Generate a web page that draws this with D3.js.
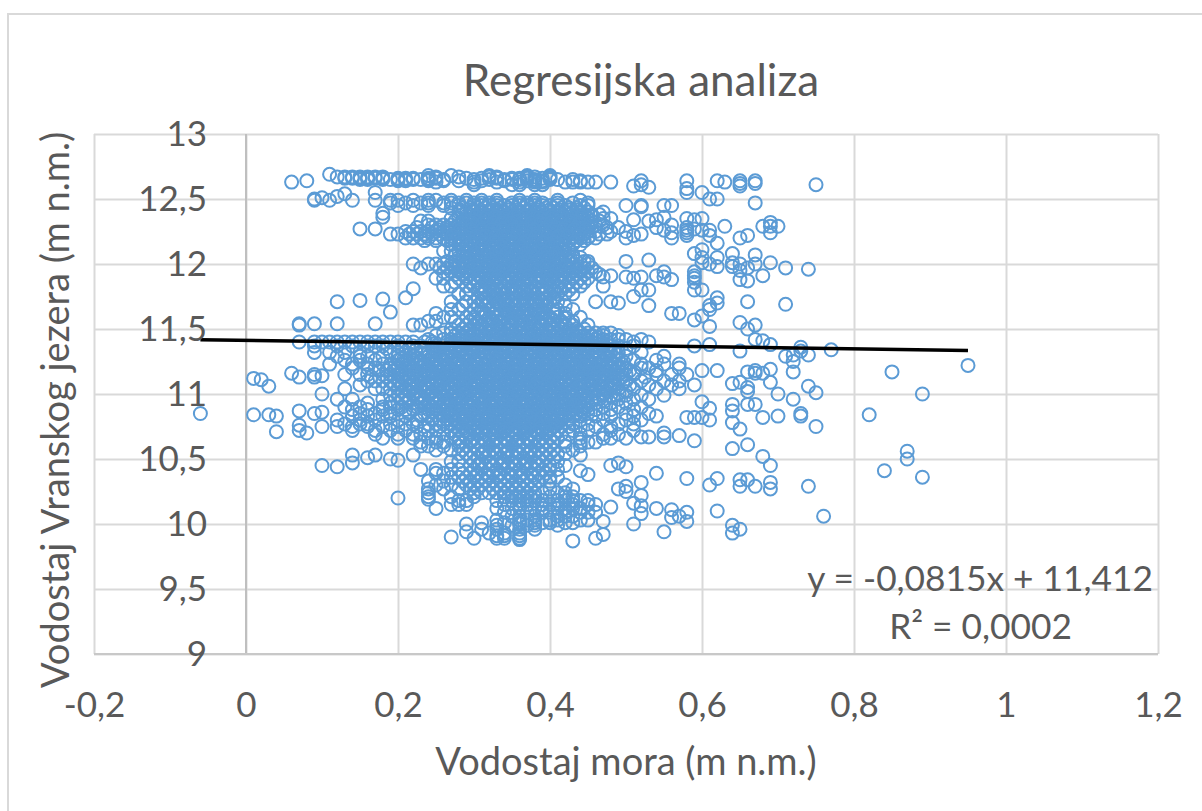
<!DOCTYPE html>
<html>
<head>
<meta charset="utf-8">
<script src="https://cdn.jsdelivr.net/npm/d3@7"></script>
<style>
html,body{margin:0;background:#fff;}
text{font-family:Lato,"Open Sans",sans-serif;fill:#595959;}
</style>
</head>
<body>
<svg id="chart" width="1202" height="811"></svg>
<script>
// tick labels
const xTicks = [-0.2, 0, 0.2, 0.4, 0.6, 0.8, 1, 1.2];
const yTicks = [9, 9.5, 10, 10.5, 11, 11.5, 12, 12.5, 13];

// trendline ends (x, y)
const trendX = [-0.06, 0.95];
const trendY = [11.417, 11.335];

// all rows below: first number is the lake level in cm, the rest are sea levels in cm
const looseLeft = [
 [1085,-6],[1112,1],[1111,2],[1106,3],[1084,1,3],[1083,4],[1071,4],[1116,6],[1113,7,9],[1115,9],[1114,10],[1100,10],
 [1087,7],[1076,7],[1072,7],[1070,8],[1085,9],[1086,10],[1075,10],[1045,10],[1044,12],[1053,14,17,22],[1047,14],[1051,16],
 [1050,19],[1049,20],[1020,20],[990,27],[1000,29],[994,29],[989,30],[1012,25],[1024,24],[1021,24],[1019,24],
 [1171,12],[1172,15],[1173,18],[1163,19],[1174,21],[1181,22],[1154,7,9,12,17],[1153,7,22,23],[1200,22,24],[1197,23],
 [1227,15,17],[1239,18],[1236,18],[1249,17],[1255,17],[1250,9],[1251,10],[1252,12],[1254,13],[1249,9,11,14],[1263,6],[1264,8],[1269,11]
];
const looseUpperRight = [
 [1263,48],[1260,51],[1264,52],[1261,52],[1259,53],[1264,58],[1258,58],[1255,58,60],[1264,62],[1263,63],[1264,65],[1262,65],[1260,65],
 [1264,67],[1262,67],[1261,75],[1250,61,62],[1247,67],[1245,50,52,55,56],[1244,52],
 [1234,51],[1233,53],[1234,54],[1236,55],[1230,56],[1235,58],[1234,59],[1235,60],[1229,63,68,69,70],[1232,69],[1224,69],[1220,65],[1222,66],
 [1220,50],[1222,51],[1223,52],[1228,54,58],[1226,55,58,60,61],[1224,56,58],[1220,56],[1222,58,61],[1227,59],[1216,62],
 [1208,59],[1211,60],[1205,60,62],[1201,60,64],[1200,61,65,67],[1198,62,64],[1208,64],[1195,65],[1188,65],[1197,66,71],[1187,66],
 [1207,67],[1191,68,48,54,59],[1201,69],[1196,74],[1202,50],[1203,53],[1190,47,50,52,55],[1189,51,59],[1194,55,59],[1188,56],
 [1186,59],[1180,59,60,53,52],[1175,51],[1171,48,66],[1170,49,62],[1168,53,61],[1162,56,57],[1157,59],[1160,60],[1165,61],[1152,61],[1174,62],
 [1155,65],[1150,66],[1169,71],[1153,67],[1142,67],[1141,68],[1138,69,61],[1137,59],[1133,65,73],[1136,73],[1130,72],[1129,71],[1125,72],[1134,77]
];
const looseLowerRight = [
 [1122,95],[1117,85,72,66],[1100,89,70],[1084,82],[1056,87],[1050,87],[1041,84],[1036,89],[1006,76],[1130,74],[1106,74],[1101,75],
 [1096,72],[1083,70,73],[1085,73],[1082,68,60,59,58],[1075,75],[1092,67,66,64],[1119,69],[1109,69,65],[1116,68,67],[1118,67,60,62],
 [1108,64],[1105,66],[1102,66],[1087,64],[1078,64],[1073,65],[1080,61],[1089,61],[1094,60],[1064,59],[1068,57],[1070,55],[1067,55,53,52],
 [1061,66],[1058,64],[1052,68],[1045,69,48],[1053,44],[1041,44],[1038,45],[1047,49],[1044,50],[1039,54],[1035,58,62],[1030,61],
 [1029,65,67,74,50],[1034,65,66],[1032,69,52],[1027,69,49],[1025,50],[1022,52],[1016,51],[1014,52],[1008,52],[1012,54],[1011,56],[1005,56],
 [1006,57],[1009,58],[1002,58,47],[1010,62],[999,64],[993,64],[996,65],[994,55],[1000,51,36],[1013,48],[989,46],[992,47],[987,43],[988,36]
];

const topBand = [
 [1268,24,27,32,37,40],
 [1267,12,13,14,15,16,17,18,25,28,32,33,37,38,40],
 [1266,13,14,15,16,17,18,20,21,22,24,25,29,31,33,35,36,37,39,40],
 [1265,15,16,18,19,20,21,22,23,24,26,30,32,34,35,36,38,40,41,43],
 [1264,20,21,24,26,28,31,34,37,38,39,44],
 [1263,25,30,33,36,38,39,42,43,44,45,46],
 [1261,30,35,36,38,39],
 [1249,19,20,22,24,25,27,29,31,33,36,38,41,44]
];
const upperBlob = [
 [1247,19,21,23,24,26,27,28,29,30,31,32,33,35,36,37,38,39,41,43,45],
 [1245,20,22,24,26,28,30,31,32,33,34,35,36,37,38,39,40,41,42,44,45],
 [1243,27,28.5,29.5,30.5,31.5,32.5,33.5,34.5,35.5,36.5,37.5,38.5,39.5,40.5,41.5,42.5,43.5,44.5],
 [1240,28,29,30,31,32,33,34,35,36,37,38,39,40,41,42,43,44,45,47],
 [1238,28.5,29.5,30.5,31.5,32.5,33.5,34.5,35.5,36.5,37.5,38.5,39.5,40.5,41.5,42.5,43.5,44.5,45.5,46.5],
 [1235,27,28,29,30,31,32,33,34,35,36,37,38,39,40,41,42,43,44,45,47,48],
 [1233,23,24,27.5,28.5,29.5,30.5,31.5,32.5,33.5,34.5,35.5,36.5,37.5,38.5,39.5,40.5,41.5,42.5,43.5,44.5,45.5,46.5],
 [1230,24,25,26,27,28,29,30,31,32,33,34,35,36,37,38,39,40,41,42,43,44,45,46,47],
 [1228,22.5,24.5,25.5,26.5,27.5,28.5,29.5,30.5,31.5,32.5,33.5,34.5,35.5,36.5,37.5,38.5,39.5,40.5,41.5,42.5,43.5,44.5,45.5,47.5,49],
 [1225,21,22,23,24,25,26,27,28,29,30,31,32,33,34,35,36,37,38,39,40,41,42,43,44,45,46,48,50],
 [1223,19,20,21.5,22.5,23.5,24.5,25.5,26.5,27.5,28.5,29.5,30.5,31.5,32.5,33.5,34.5,35.5,36.5,37.5,38.5,39.5,40.5,41.5,42.5,43.5,44.5,46.5,47.5],
 [1220,21,22,23,24,25,26,27,28,29,30,31,32,33,34,35,36,37,38,39,40,41,42,43,44,45,46],
 [1218,23.5,25,26.5,27.5,28.5,29.5,30.5,31.5,32.5,33.5,34.5,35.5,36.5,37.5,38.5,39.5,40.5,41.5,42.5,43.5,44.5],
 [1215,27,28,29,30,31,32,33,34,35,36,37,38,39,40,41,42,43,44],
 [1212,28.5,30.5,31.5,32.5,33.5,34.5,35.5,36.5,37.5,38.5,39.5,40.5,41.5,42.5],
 [1210,26,27,28,29,30,31,32,33,34,35,36,37,38,39,40,41,42],
 [1207,27.5,28.5,30.5,31.5,32.5,33.5,34.5,35.5,36.5,37.5,38.5,39.5,40.5,41.5,43],
 [1205,28,29,30,31,32,33,34,35,36,37,38,39,40,41,42,43,44],
 [1202,26.5,27.5,28.5,29.5,30.5,31.5,32.5,33.5,34.5,35.5,36.5,37.5,38.5,39.5,40.5,41.5,42.5,43.5,44.5,45],
 [1200,25,26,27,28,29,30,31,32,33,34,35,36,37,38,39,40,41,42,43,44,45],
 [1197,25.5,26.5,27.5,28.5,29.5,30.5,31.5,32.5,33.5,34.5,35.5,36.5,37.5,38.5,39.5,40.5,41.5,42.5,43.5,44.5,45.5],
 [1194,26,27,28,29,30,31,32,33,34,35,36,37,38,39,40,41,42,43,44,45,46],
 [1192,27.5,28.5,29.5,30.5,31.5,32.5,33.5,34.5,35.5,36.5,37.5,38.5,39.5,40.5,41.5,42.5,43.5,44.5,46.5],
 [1189,25,26,28,29,30,31,32,33,34,35,36,37,38,39,40,41,42,43,44,45],
 [1186,27.5,29.5,30.5,31.5,32.5,33.5,34.5,35.5,36.5,37.5,38.5,39.5,40.5,41.5,42.5,43.5,44.5],
 [1183,26,27,29,30,31,32,33,34,35,36,37,38,40,41,42,43,44,47],
 [1180,29.5,30.5,31.5,32.5,33.5,34.5,35.5,36.5,37.5,38.5,39.5,40.5,41.5,42.5],
 [1177,28,29,31,32,33,34,35,36,37,38,39,40,41,42,43],
 [1174,30.5,31.5,32.5,33.5,34.5,35.5,36.5,37.5,38.5,39.5,40.5],
 [1171,27,29,30,31,32,33,34,35,36,37,38,39,40,41,46],
 [1168,28.5,30.5,32.5,33.5,34.5,35.5,36.5,37.5,38.5,39.5,42],
 [1165,27,28,30,31,33,34,35,36,37,38,39,41,43],
 [1162,25,29.5,30.5,32.5,33.5,34.5,35.5,36.5,37.5,38.5,40.5,42],
 [1159,26,27,29,30,31,32,33,34,35,36,37,38,39,40,41,42,44],
 [1156,24,25,27.5,29.5,31.5,32.5,33.5,34.5,35.5,36.5,37.5,38.5,39.5,41.5,43],
 [1153,28,29,30,31,32,33,34,35,36,37,38,39,40,41,42,43,45]
];
const upperFill = [
 [1241.5,28.2,29.7,30.9,32.4,33.1,34.6,35.8,37.3,38.4,39.9,41.2,42.6,43.7],
 [1236.5,29.3,30.2,31.7,32.8,34.2,35.3,36.7,37.8,39.2,40.3,41.6,42.9,44.2,45.6],
 [1231.5,28.4,29.8,31.2,32.6,33.7,34.9,36.3,37.6,38.8,40.1,41.4,42.7,43.9,45.3],
 [1226.5,25.2,26.7,28.3,29.6,31.1,32.3,33.8,35.2,36.4,37.9,39.3,40.6,41.8,43.2,44.7],
 [1221.5,23.7,27.2,28.8,30.3,31.6,32.9,34.1,35.7,36.9,38.2,39.7,41.1,42.3,43.8,45.2],
 [1216.5,28.3,29.7,31.2,32.7,33.9,35.1,36.6,37.7,39.1,40.4,41.7,43.2],
 [1213.5,29.2,31.1,32.3,33.6,34.8,36.2,37.4,38.7,40.2,41.3],
 [1208.5,28.7,30.2,31.8,32.9,34.3,35.6,36.8,38.1,39.4,40.7],
 [1203.5,29.3,30.8,32.2,33.4,34.7,36.1,37.3,38.6,39.9,41.2,42.7],
 [1198.5,27.2,28.6,30.1,31.7,32.8,34.2,35.4,36.7,37.9,39.3,40.7,42.1,43.6],
 [1195.5,28.3,29.8,31.3,32.6,33.9,35.3,36.6,38.2,39.6,40.9,42.4,43.8],
 [1190.5,29.1,30.7,32.1,33.2,34.8,36.1,37.2,38.7,40.1,41.6,43.1],
 [1187.5,30.2,31.6,32.9,34.3,35.7,36.9,38.3,39.7,41.2],
 [1181.5,30.8,32.2,33.6,34.9,36.2,37.6,38.9,40.2,41.3],
 [1178.5,31.3,32.7,34.1,35.3,36.7,37.8,39.2,40.6],
 [1172.5,31.2,32.6,33.8,35.1,36.4,37.7,39.3,40.4],
 [1169.5,31.7,33.2,34.4,35.7,36.9,38.2,39.6],
 [1163.5,31.3,32.8,34.2,35.3,36.6,37.9,39.2,40.7],
 [1160.5,31.6,33.1,34.6,35.9,37.2,38.4,39.7],
 [1157.5,30.2,32.3,33.7,35.1,36.3,37.7,38.9,40.3],
 [1154.5,30.7,32.1,33.4,34.8,36.2,37.4,38.8,40.1,41.6]
];
const lowerBlob = [
 [1150,27,28.5,29.5,30.5,31.5,32.5,33.5,34.5,35.5,36.5,37.5,38.5,39.5,40.5,41.5,42.5,43.5,44.5],
 [1147,26,27,28,29,30,31,32,33,34,35,36,37,38,39,40,41,42,43,44,45,46,47,48],
 [1145,25,27.5,28.5,29.5,30.5,31.5,32.5,33.5,34.5,35.5,36.5,37.5,38.5,39.5,40.5,41.5,42.5,43.5,44.5,45.5,47,49],
 [1142,24,26,27,28,29,30,31,32,33,34,35,36,37,38,39,40,41,42,43,44,45,46,47,48,49,50,52],
 [1140,7,9,10,11,12,13,14,15,16,17,18,19,20,21,22,23.5,24.5,26.5,27.5,28.5,29.5,30.5,31.5,32.5,33.5,34.5,35.5,36.5,37.5,38.5,39.5,40.5,41.5,42.5,43.5,44.5,45.5,46.5,47.5,51,53],
 [1137,9,12,14,16,17,18,20,22,23,25,26,27,28,29,30,31,33,34,35,36,37,38,39,40,41,42,43,44,45,46,47,48,49,51],
 [1135,18.5,20.5,21.5,23.5,24.5,26.5,27.5,28.5,29.5,30.5,31.5,32.5,33.5,34.5,35.5,36.5,37.5,38.5,39.5,40.5,41.5,42.5,43.5,44.5,45.5,46.5,47.5,48.5,50],
 [1132,9,11,13,15,19,20,21,23,24,25,26,27,28,29,30,31,32,33,34,35,36,37,38,39,40,41,42,43,44,45,46,48,49,52],
 [1129,12,15,16,18,20,22,24,25.5,26.5,27.5,28.5,29.5,30.5,31.5,32.5,33.5,34.5,35.5,36.5,37.5,38.5,39.5,40.5,41.5,42.5,43.5,44.5,45.5,46.5,47.5,50,55],
 [1126,13,15,17,20,21,22,23,24,25,26,27,28,29,30,31,32,33,34,35,36,37,38,39,40,41,42,43,44,45,46,47,48,49,51,54],
 [1123,11,14,16,18,19,20.5,21.5,22.5,23.5,24.5,25.5,26.5,27.5,28.5,29.5,30.5,31.5,32.5,33.5,34.5,35.5,36.5,37.5,38.5,39.5,40.5,41.5,42.5,43.5,44.5,45.5,46.5,47.5,48.5,49.5,52,55,57],
 [1120,14,16,17,19,20,21,22,23,24,25,26,27,28,29,30,31,32,33,34,35,36,37,38,39,40,41,42,43,44,45,46,47,48,49,50,52,53,57],
 [1118,17.5,18.5,19.5,20.5,21.5,22.5,23.5,24.5,25.5,26.5,27.5,28.5,29.5,30.5,31.5,32.5,33.5,34.5,35.5,36.5,37.5,38.5,39.5,40.5,41.5,42.5,43.5,44.5,45.5,46.5,47.5,48.5,50.5,54],
 [1115,13,15,16,18,19,20,21,22,23,24,25,26,27,28,29,30,31,32,33,34,35,36,37,38,39,40,41,42,43,44,45,46,47,48,49,50,51,54,56,58],
 [1113,16.5,18.5,20.5,21.5,22.5,23.5,24.5,25.5,26.5,27.5,28.5,29.5,30.5,31.5,32.5,33.5,34.5,35.5,36.5,37.5,38.5,39.5,40.5,41.5,42.5,43.5,44.5,45.5,46.5,47.5,48.5,49.5,52.5],
 [1110,16,17,18,19,20,21,22,23,25,26,27,28,29,30,31,32,33,34,35,36,37,38,39,40,41,42,43,44,45,46,47,48,50,52,55,57],
 [1107,15,19.5,20.5,21.5,22.5,23.5,24.5,25.5,26.5,27.5,28.5,29.5,30.5,31.5,32.5,33.5,34.5,35.5,36.5,37.5,38.5,39.5,40.5,41.5,42.5,43.5,44.5,45.5,46.5,47.5,48.5,50.5,53,56,59],
 [1104,13,17,18,19,20,21,22,24,25,26,27,28,29,30,31,32,33,34,35,36,37,38,39,40,41,42,43,44,45,46,48,49,51,54,57],
 [1102,20.5,21.5,22.5,23.5,24.5,25.5,26.5,27.5,28.5,29.5,30.5,31.5,32.5,33.5,34.5,35.5,36.5,37.5,38.5,39.5,40.5,41.5,42.5,43.5,44.5,45.5,47.5,50],
 [1099,19,20,21,22,23,24,25,26,27,28,29,30,31,32,33,34,35,36,37,38,39,40,41,42,43,44,45,47,48,50,52,55],
 [1096,12,14,18,20.5,21.5,22.5,23.5,24.5,25.5,26.5,27.5,28.5,29.5,30.5,31.5,32.5,33.5,34.5,35.5,36.5,37.5,38.5,39.5,40.5,41.5,42.5,43.5,44.5,46.5,49,51,53],
 [1093,16,19,20,21,22,23,24,25,26,27,28,29,30,31,32,33,34,35,36,37,38,39,40,41,42,43,44,45,46,48,50],
 [1090,13,15,18,19,20.5,22.5,23.5,24.5,25.5,26.5,27.5,28.5,29.5,30.5,31.5,32.5,33.5,34.5,35.5,36.5,37.5,38.5,39.5,40.5,41.5,42.5,43.5,44.5,47,49,52],
 [1088,14,16,18,20,21,22,24,25,26,27,28,29,30,31,32,33,34,35,36,37,38,39,40,41,42,43,44,45,46,48,51],
 [1085,15,17,19,21.5,23.5,25.5,26.5,27.5,28.5,29.5,30.5,31.5,32.5,33.5,34.5,35.5,36.5,37.5,38.5,39.5,40.5,41.5,42.5,43.5,45,47,50,53],
 [1083,14,16,18,19,21,23,24,26,27,28,29,30,31,32,33,34,35,36,37,38,39,40,41,42,43,44,46,48,51,54],
 [1080,12,15,17,20,22.5,24.5,25.5,26.5,27.5,28.5,29.5,30.5,31.5,32.5,33.5,34.5,35.5,36.5,37.5,38.5,39.5,40.5,41.5,42.5,44,47,50,52],
 [1077,13,15,16,19,21,22,24,25,26,27,28,29,30,31,32,33,34,35,36,37,38,39,40,41,43,45,49,51],
 [1075,12,14,16,18,20,22.5,23.5,25.5,26.5,27.5,28.5,29.5,30.5,31.5,32.5,33.5,34.5,35.5,36.5,37.5,38.5,39.5,40.5,41.5,42.5,44,46,48],
 [1072,14,17,19,21,24,25,27,28,29,30,31,32,33,34,35,36,37,38,39,40,41,43,45,48,51],
 [1069,17,20,22,23,26,27.5,28.5,29.5,30.5,31.5,32.5,33.5,34.5,35.5,36.5,37.5,38.5,39.5,40.5,41.5,42.5,44,47,49],
 [1066,18,20,22,24,25,27,28,29,30,31,32,33,34,35,36,37,38,39,40,41,44,47,48,50],
 [1063,23,25,26,28,29.5,30.5,31.5,32.5,33.5,34.5,35.5,36.5,37.5,38.5,39.5,40.5,42,44,45,46]
];
const lowerFill = [
 [1148.5,29.2,30.7,32.1,33.3,34.6,35.9,37.2,38.4,39.8,41.1,42.4,43.7],
 [1143.5,28.3,29.8,31.2,32.7,33.9,35.2,36.6,37.8,39.1,40.3,41.7,43.1,44.6,46.2],
 [1138.5,24.7,27.3,28.9,30.2,31.6,32.8,34.1,35.7,36.9,38.3,39.6,40.8,42.2,43.6,45.2,46.8],
 [1133.5,22.3,25.2,26.8,28.2,29.7,31.1,32.6,33.8,35.2,36.4,37.7,39.1,40.6,41.9,43.3,44.7,46.1,47.6],
 [1130.5,21.6,23.2,24.8,26.3,27.9,29.2,30.7,32.2,33.4,34.7,36.1,37.3,38.6,39.9,41.3,42.8,44.2,45.6,47.2,48.8],
 [1127.5,20.8,22.7,24.3,25.9,27.2,28.8,30.1,31.6,32.9,34.2,35.7,36.8,38.2,39.4,40.7,42.1,43.6,44.9,46.4,47.9],
 [1124.5,21.2,23.1,24.7,26.2,27.7,29.1,30.4,31.8,33.2,34.4,35.8,37.1,38.4,39.8,41.2,42.7,44.1,45.3,46.8,48.2,49.7],
 [1121.5,19.6,21.7,23.4,25.1,26.7,28.3,29.6,31.2,32.6,33.7,35.2,36.6,37.9,39.2,40.6,41.8,43.3,44.6,46.1,47.4,49.1],
 [1116.5,20.3,22.2,24.1,25.6,27.1,28.6,30.2,31.3,32.8,34.1,35.4,36.9,38.1,39.6,40.9,42.2,43.7,45.1,46.3,47.8,49.4,51.2],
 [1111.5,21.3,23.3,24.9,26.4,27.8,29.3,30.8,32.1,33.6,34.9,36.2,37.4,38.8,40.2,41.4,42.9,44.3,45.7,47.1,48.6],
 [1108.5,20.2,22.6,24.4,25.7,27.3,28.7,30.1,31.7,33.2,34.3,35.7,37.2,38.3,39.7,41.1,42.6,44.1,45.4,46.9,48.3,49.6],
 [1105.5,21.7,23.8,25.3,26.9,28.4,29.9,31.4,32.7,33.9,35.4,36.7,38.1,39.3,40.8,42.3,43.8,45.2,46.6,47.9],
 [1100.5,22.2,24.3,25.8,27.4,28.9,30.3,31.8,33.1,34.6,35.8,37.3,38.6,40.1,41.4,42.8,44.3,45.8,47.2,49.1],
 [1097.5,22.7,24.8,26.2,27.8,29.4,30.7,32.3,33.7,34.9,36.3,37.8,39.2,40.4,41.9,43.2,44.7,46.2,48.3],
 [1094.5,21.4,23.3,25.2,26.7,28.2,29.7,31.2,32.6,34.1,35.4,36.8,38.1,39.7,41.1,42.6,43.9,45.4,47.2],
 [1091.5,24.2,26.1,27.7,29.2,30.8,32.2,33.6,34.8,36.2,37.6,39.1,40.3,41.7,43.3,44.6],
 [1086.5,24.7,26.8,28.3,29.8,31.3,32.7,34.2,35.6,36.9,38.4,39.6,41.2,42.7,44.2],
 [1081.5,27.3,28.8,30.4,31.9,33.2,34.7,36.1,37.4,38.9,40.2,41.6],
 [1078.5,27.7,29.3,30.8,32.3,33.8,35.2,36.6,38.1,39.4,40.7],
 [1073.5,28.6,30.2,31.6,33.1,34.4,35.9,37.2,38.7,40.1],
 [1070.5,29.2,31.1,32.6,33.9,35.3,36.7,38.2,39.6],
 [1064.5,29.8,31.3,32.8,34.2,35.7,37.1,38.6],
 [1055.5,31.2,32.8,34.3,35.7,37.3],
 [1046.5,30.7,32.2,33.8,35.3,36.8,38.3],
 [1037.5,30.3,31.8,33.3,34.8,36.2,37.7]
];
const lowerTail = [
 [1060,23,24,26,28,29,30,31,32,33,34,35,36,37,38,39,40,42,44],
 [1057,25,27,28.5,30.5,31.5,32.5,33.5,34.5,35.5,36.5,37.5,38.5,39.5,40.5,43],
 [1054,28,29,30,31,32,33,34,35,36,37,38,39,40,41,42],
 [1051,29.5,30.5,31.5,33.5,34.5,35.5,36.5,37.5,38.5,39.5,40.5],
 [1048,27,28,30,31,32,33,34,35,36,37,38,39,41],
 [1045,29.5,30.5,32.5,33.5,34.5,35.5,36.5,37.5,38.5,40,42],
 [1042,23,25,27,28,30,31,32,33,34,35,36,37,38,39,40,41],
 [1039,25,26,28.5,29.5,30.5,31.5,32.5,33.5,34.5,35.5,36.5,37.5,38.5,39.5],
 [1036,27,28,29,30,31,32,33,34,35,36,37,38,39,40,41],
 [1033,24,26,28.5,29.5,30.5,31.5,32.5,33.5,34.5,35.5,36.5,37.5,38.5,40],
 [1030,25,27,29,30,31,32,33,34,35,36,37,38,42],
 [1027,24,26,28,29.5,30.5,32.5,33.5,34.5,35.5,36.5,37.5,40,43],
 [1024,30,31,32,33,34,35,36,37,38,39,41,42],
 [1021,27,30,34,35,36,37,38,40,42,43],
 [1018,28,29,33,35,36,37,38,39,41,42,43,44,45],
 [1015,27,28,29,34,36,37,39,40,41,43,45,46],
 [1012,33,35,36,38,39,41,42,43,44],
 [1009,34,37,39,40,42,44,45,46],
 [1006,35,36,38,41,42,43],
 [1003,33,36,37,38,40,41,44,45],
 [1001,31,34,36,38,39,40,42,43],
 [999,33,35,37,38,41],
 [996,31,33,36,38],
 [993,32,34,36],
 [991,33,34,36],
 [989,33,34,36]
];

const margin = {top: 134, right: 44, bottom: 157, left: 94};
const svg = d3.select("#chart");
const width = +svg.attr("width") - margin.left - margin.right;
const height = +svg.attr("height") - margin.top - margin.bottom;

const x = d3.scaleLinear().domain([-0.2, 1.2]).range([0, width]);
const y = d3.scaleLinear().domain([9, 13]).range([height, 0]);
const comma = d => String(d).replace(".", ",");

// chart frame, only left and top show in the picture
svg.append("path")
	.attr("d", d3.line()([[8, 811], [8, 14], [1202, 14]]))
	.attr("fill", "none")
	.attr("stroke", "#d9d9d9")
	.attr("stroke-width", 2);

const g = svg.append("g").attr("transform", "translate(" + margin.left + "," + margin.top + ")");

g.append("g")
	.attr("transform", "translate(0," + height + ")")
	.call(d3.axisBottom(x).tickValues(xTicks).tickSize(-height).tickFormat(""))
	.call(a => a.select(".domain").remove())
	.selectAll("line").attr("stroke", "#d9d9d9").attr("stroke-width", 2);

g.append("g")
	.call(d3.axisLeft(y).tickValues(yTicks).tickSize(-width).tickFormat(""))
	.call(a => a.select(".domain").remove())
	.selectAll("line").attr("stroke", "#d9d9d9").attr("stroke-width", 2);

// axis lines cross at x = 0 and y = 9
g.append("line").attr("x1", x(0)).attr("x2", x(0)).attr("y1", 0).attr("y2", height)
	.attr("stroke", "#bfbfbf").attr("stroke-width", 2);
g.append("line").attr("x1", 0).attr("x2", width).attr("y1", height).attr("y2", height)
	.attr("stroke", "#c8c8c8").attr("stroke-width", 2);

const points = [looseLeft, looseUpperRight, looseLowerRight, topBand, upperBlob, upperFill, lowerBlob, lowerFill, lowerTail]
	.flat()
	.flatMap(([lake, ...seas]) => seas.map(sea => ({sea: sea / 100, lake: lake / 100})));

g.append("g")
	.selectAll("circle")
	.data(points)
	.enter().append("circle")
	.attr("cx", d => x(d.sea))
	.attr("cy", d => y(d.lake))
	.attr("r", 6.5)
	.attr("fill", "none")
	.attr("stroke", "#5b9bd5")
	.attr("stroke-width", 2);

g.append("path")
	.attr("d", d3.line().x(d => x(d)).y((d, i) => y(trendY[i]))(trendX))
	.attr("stroke", "#000")
	.attr("stroke-width", 3.5)
	.attr("fill", "none");

// tick labels sit next to the axis crossing, so they are drawn on their own axes
const xLabels = g.append("g")
	.attr("transform", "translate(0," + height + ")")
	.call(d3.axisBottom(x).tickValues(xTicks).tickSize(0).tickPadding(38).tickFormat(comma));
xLabels.select(".domain").remove();
xLabels.selectAll("text").style("font-size", "35px").style("font-family", "Lato").attr("fill", "#595959");

const yLabels = g.append("g")
	.attr("transform", "translate(" + x(0) + ",0)")
	.call(d3.axisLeft(y).tickValues(yTicks).tickSize(0).tickPadding(39).tickFormat(comma));
yLabels.select(".domain").remove();
yLabels.selectAll("text").style("font-size", "35px").style("font-family", "Lato").attr("fill", "#595959");

svg.append("text")
	.attr("x", 641).attr("y", 96)
	.attr("text-anchor", "middle")
	.style("font-size", "44px")
	.text("Regresijska analiza");

svg.append("text")
	.attr("x", 626).attr("y", 775)
	.attr("text-anchor", "middle")
	.style("font-size", "38px")
	.text("Vodostaj mora (m n.m.)");

svg.append("text")
	.attr("transform", "translate(69,410) rotate(-90)")
	.attr("text-anchor", "middle")
	.style("font-size", "38px")
	.text("Vodostaj Vranskog jezera (m n.m.)");

svg.append("text")
	.attr("x", 1153).attr("y", 591)
	.attr("text-anchor", "end")
	.style("font-size", "35.3px")
	.text("y = -0,0815x + 11,412");

svg.append("text")
	.attr("x", 1072).attr("y", 639)
	.attr("text-anchor", "end")
	.style("font-size", "35.3px")
	.text("R² = 0,0002");
</script>
</body>
</html>
